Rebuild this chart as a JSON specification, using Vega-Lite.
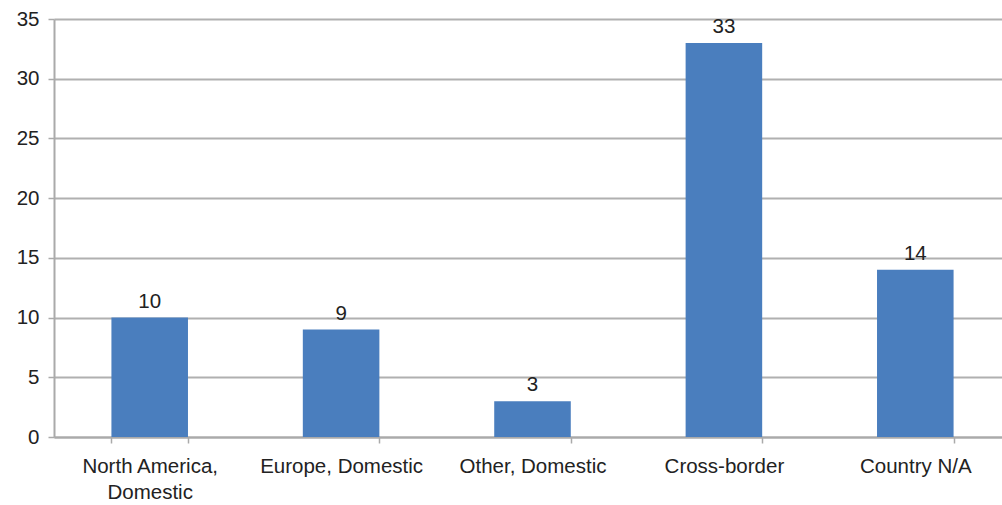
{
  "$schema": "https://vega.github.io/schema/vega-lite/v6.json",
  "width": 957,
  "height": 418,
  "autosize": {"type": "none"},
  "padding": {"left": 54, "top": 19, "right": 0, "bottom": 68},
  "background": "white",
  "config": {
    "view": {"stroke": null},
    "font": "Liberation Sans",
    "text": {"font": "Liberation Sans"}
  },
  "data": {
    "values": [
      {"category": "North America, Domestic", "count": 10},
      {"category": "Europe, Domestic", "count": 9},
      {"category": "Other, Domestic", "count": 3},
      {"category": "Cross-border", "count": 33},
      {"category": "Country N/A", "count": 14}
    ]
  },
  "encoding": {
    "x": {
      "field": "category",
      "type": "nominal",
      "sort": null,
      "scale": {"paddingInner": 0.6, "paddingOuter": 0.3},
      "axis": {
        "title": null,
        "labelAngle": 0,
        "labelFontSize": 20.5,
        "labelColor": "#222222",
        "labelLineHeight": 26,
        "labelPadding": 13,
        "labelBaseline": "top",
        "tickBand": "extent",
        "tickSize": 6,
        "tickColor": "#aaaaaa",
        "tickWidth": 1.5,
        "domainColor": "#aaaaaa",
        "domainWidth": 2,
        "grid": false,
        "labelExpr": "datum.value == 'North America, Domestic' ? ['North America,', 'Domestic'] : datum.value"
      }
    },
    "y": {
      "field": "count",
      "type": "quantitative",
      "scale": {"domain": [0, 35], "nice": false},
      "axis": {
        "title": null,
        "values": [0, 5, 10, 15, 20, 25, 30, 35],
        "labelFontSize": 20.5,
        "labelColor": "#222222",
        "labelPadding": 9,
        "tickSize": 6,
        "tickColor": "#aaaaaa",
        "tickWidth": 1.5,
        "domainColor": "#aaaaaa",
        "domainWidth": 2,
        "grid": true,
        "gridColor": "#b0b0b0",
        "gridWidth": 2
      }
    }
  },
  "layer": [
    {"mark": {"type": "bar", "color": "#4a7ebe"}},
    {
      "mark": {"type": "text", "baseline": "alphabetic", "dy": -10, "fontSize": 20.5, "color": "#222222"},
      "encoding": {"text": {"field": "count", "type": "quantitative"}}
    }
  ]
}
